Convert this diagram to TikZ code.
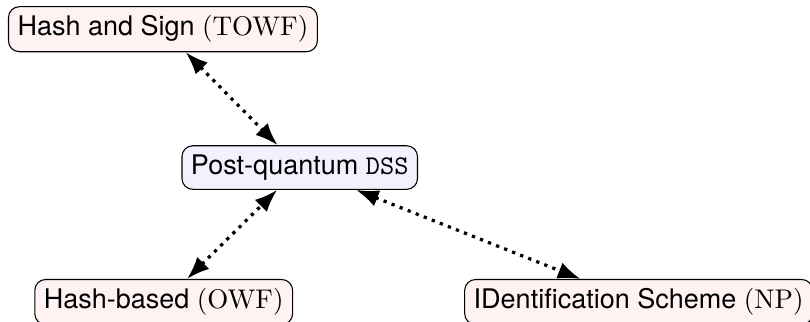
\documentclass[tikz,border=0pt]{standalone}
\usepackage[no-math]{fontspec}
\setmainfont{TeX Gyre Heros}
\usepackage{tikz}
\usetikzlibrary{positioning,arrows.meta}

\begin{document}
\begin{tikzpicture}[
    >=Latex,
    scheme/.style={rectangle, rounded corners=4pt, draw, fill=red!5},
    core/.style={rectangle, rounded corners=4pt, draw, fill=blue!5},
    link/.style={<->, very thick, dotted}
]
\useasboundingbox (0,0) rectangle (10.54,4.18);

% === Centre ===
\node[core] (pq) at (3.90, 2.00) {Post-quantum \texttt{DSS}};

% === Families ===
\node[scheme] (hs) at (2.12, 3.80) {Hash and Sign $(\mathrm{TOWF})$};
\node[scheme] (hb) at (2.13, 0.25) {Hash-based $(\mathrm{OWF})$};
\node[scheme] (id) at (8.31, 0.25) {IDentification Scheme $(\mathrm{NP})$};

% Links
\draw[link] (hs) -- (pq);
\draw[link] (hb) -- (pq);
\draw[link] (pq) -- (id);
\end{tikzpicture}
\end{document}
